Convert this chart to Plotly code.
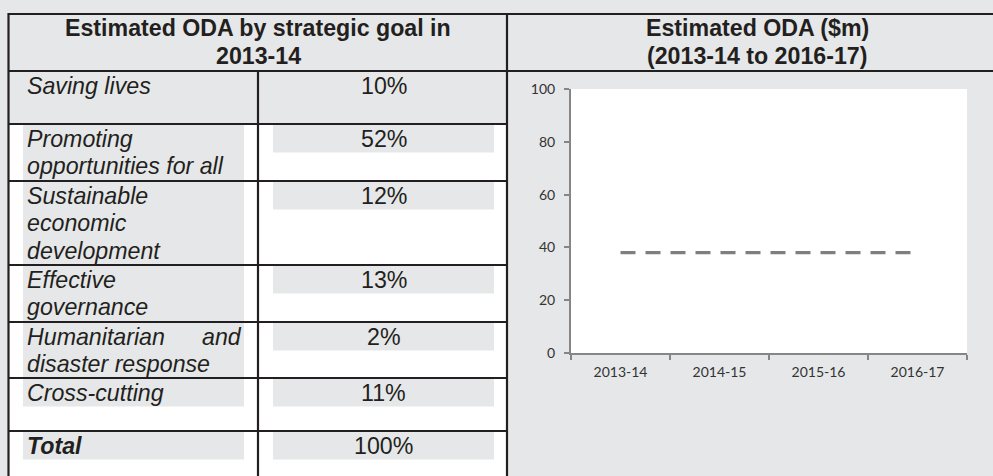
import plotly.graph_objects as go

# ---------------- data ----------------
goal_labels = [
    "Saving lives",
    "Promoting<br>opportunities for all",
    "Sustainable<br>economic<br>development",
    "Effective<br>governance",
    "Humanitarian and<br>disaster response",
    "Cross-cutting",
    "Total",
]
goal_shares = ["10%", "52%", "12%", "13%", "2%", "11%", "100%"]
table_title = "Estimated ODA by strategic goal in<br>2013-14"
chart_title = "Estimated ODA ($m)<br>(2013-14 to 2016-17)"
years = ["2013-14", "2014-15", "2015-16", "2016-17"]
oda_values = [38, 38, 38, 38]

# ---------------- layout constants (pixels) ----------------
W, H = 993, 476
BG = "#e6e7e8"
INK = "#231f20"
FONT = "Liberation Sans, Arial, sans-serif"
FS = 23.2
row_edges = [71, 124, 181, 265, 322, 378, 431, 476]
LINE = 27.5


def px(x):
    return x / W


def py(y):
    return 1 - y / H


shapes = []
annotations = []


def rect(x0, y0, x1, y1, color):
    shapes.append(dict(type="rect", xref="paper", yref="paper",
                       x0=px(x0), x1=px(x1), y0=py(y1), y1=py(y0),
                       fillcolor=color, line=dict(width=0), layer="below"))


def seg(x0, y0, x1, y1, w=2.2):
    shapes.append(dict(type="line", xref="paper", yref="paper",
                       x0=px(x0), x1=px(x1), y0=py(y0), y1=py(y1),
                       line=dict(color=INK, width=w), layer="above"))


def text(x, ybase, s, anchor="left", bold=False, italic=False, size=FS, color=INK):
    annotations.append(dict(
        xref="paper", yref="paper", x=px(x), y=py(ybase - 0.36 * size),
        xanchor=anchor, yanchor="middle", showarrow=False,
        text=s, font=dict(family=FONT, size=size, color=color,
                          weight="bold" if bold else "normal",
                          style="italic" if italic else "normal"),
    ))


# white table body (rows 2..)
rect(9, row_edges[1], 507, H, "white")

# highlights and text per row
for i, (lab, val) in enumerate(zip(goal_labels, goal_shares)):
    top, bot = row_edges[i], row_edges[i + 1]
    lines = lab.split("<br>")
    n = len(lines)
    if i > 0:
        lh_bot = min(top + 1 + n * LINE, bot)
        if n > 1 and bot - (top + 1 + n * LINE) < 4:
            lh_bot = bot
        rect(23, top + 1, 244, lh_bot, BG)
        rect(273, top + 1, 494, top + 1 + LINE, BG)
    is_total = (i == len(goal_labels) - 1)
    for k, ln in enumerate(lines):
        base = top + 23 + k * LINE
        words = ln.split(" ")
        if k < n - 1 and len(words) > 1:
            text(25, base, " ".join(words[:-1]), italic=True, bold=is_total)
            text(244, base, words[-1], anchor="right", italic=True, bold=is_total)
        else:
            text(25, base, ln, italic=True, bold=is_total)
    text(383.5, top + 23, val, anchor="center")

# headers
for k, ln in enumerate(table_title.split("<br>")):
    text(258, 36.5 + k * LINE, ln, anchor="center", bold=True)
for k, ln in enumerate(chart_title.split("<br>")):
    text(757, 36.5 + k * LINE, ln, anchor="center", bold=True)

# grid lines
seg(8, 14, W, 14)
seg(8, 71, W, 71)
seg(8.5, 13, 8.5, H)
seg(507, 13, 507, H)
seg(258, 71, 258, H)
for y in row_edges[1:-1]:
    seg(8, y, 507, y)

fig = go.Figure()
fig.add_trace(go.Scatter(
    x=years, y=oda_values, mode="lines",
    line=dict(color="#7f7f7f", width=3.2, dash="15px,10px"),
    showlegend=False, hoverinfo="skip",
))

axis_gray = "#868686"
tick_font = dict(family="Lato, Open Sans, sans-serif", size=14, color="#333333")
fig.update_layout(
    width=W, height=H,
    margin=dict(l=0, r=0, t=0, b=0),
    paper_bgcolor=BG, plot_bgcolor="white",
    shapes=shapes, annotations=annotations,
    xaxis=dict(domain=[px(571), px(967)], type="category", range=[-0.5, 3.5],
               tickson="boundaries", ticks="outside", ticklen=5, tickwidth=2,
               tickcolor=axis_gray, showline=True, linecolor=axis_gray, linewidth=2,
               showgrid=False, zeroline=False, tickfont=tick_font,
               ticklabelstandoff=5, automargin=False, fixedrange=True),
    yaxis=dict(domain=[py(353), py(89)], range=[0, 100], dtick=20,
               ticks="outside", ticklen=5, tickwidth=2, tickcolor=axis_gray,
               showline=True, linecolor=axis_gray, linewidth=2,
               showgrid=False, zeroline=False, tickfont=tick_font,
               ticklabelstandoff=6, automargin=False, fixedrange=True),
)

fig.write_html(
    "out.html",
    config={"displayModeBar": False},
    post_script="document.body.style.margin='0';document.body.style.background='%s';" % BG,
)
